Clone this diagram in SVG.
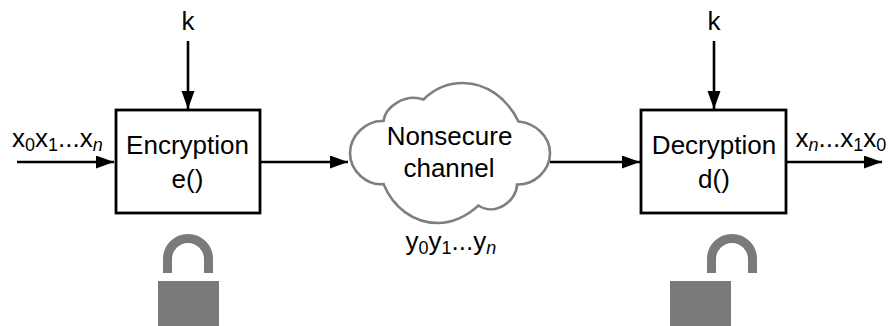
<svg xmlns="http://www.w3.org/2000/svg" width="891" height="326" viewBox="0 0 891 326">
<style>
text{font-family:"Liberation Sans",Arial,sans-serif;font-size:26px;fill:#000}
.m{text-anchor:middle}
.s{font-size:18px}
.i{font-size:18px;font-style:italic}
.box{fill:#fff;stroke:#000;stroke-width:2.8}
.conn{fill:none;stroke:#000;stroke-width:2.6}
.lock{fill:#7a7a7a}
.shackle{fill:none;stroke:#7a7a7a;stroke-width:9}
.cloud{fill:#fff;stroke:#7f7f7f;stroke-width:2.6}
</style>
<defs>
<marker id="arrow" markerUnits="userSpaceOnUse" markerWidth="20" markerHeight="14" refX="18" refY="6.500" orient="auto">
<path d="M0 0L18 6.500L0 13Z" fill="#000"/>
</marker>
</defs>
<g id="connectors">
<path class="conn" marker-end="url(#arrow)" d="M17 162H114"/>
<path class="conn" marker-end="url(#arrow)" d="M188 41V109"/>
<path class="conn" marker-end="url(#arrow)" d="M261 162H348"/>
<path class="conn" marker-end="url(#arrow)" d="M550 162H640"/>
<path class="conn" marker-end="url(#arrow)" d="M714 41V109"/>
<path class="conn" marker-end="url(#arrow)" d="M787 162H882"/>
</g>
<g id="encryption">
<rect class="box" x="116" y="110" width="144" height="103"/>
<text class="m" x="187.500" y="154">Encryption</text>
<text class="m" x="187.500" y="188">e()</text>
</g>
<g id="decryption">
<rect class="box" x="641" y="110" width="145" height="103"/>
<text class="m" x="714" y="154">Decryption</text>
<text class="m" x="714" y="188">d()</text>
</g>
<g id="cloud">
<path class="cloud" d="M383.500 121C385 107 405 93 423.500 99.500C434 89 448 83 463 83C486 83 507 98 518.500 121.500C535 123 550 136 550 153C550 171 534 185 517 184.500C517 200 496 217 478.500 205.500C467 216 452 223 438 223C413 223 393 207 383.500 184C367 186 350 171 350 153C350 136 366 120 383.500 121Z"/>
<text class="m" x="449.500" y="145">Nonsecure</text>
<text class="m" x="449" y="177">channel</text>
</g>
<g id="key-left"><text class="m" x="188" y="30">k</text></g>
<g id="key-right"><text class="m" x="714" y="30">k</text></g>
<g id="plaintext-in"><text x="12" y="147">x<tspan class="s" dy="4">0</tspan><tspan dy="-4">x</tspan><tspan class="s" dy="4">1</tspan><tspan dy="-4">...x</tspan><tspan class="i" dy="4">n</tspan></text></g>
<g id="ciphertext"><text x="405.500" y="250">y<tspan class="s" dy="4">0</tspan><tspan dy="-4">y</tspan><tspan class="s" dy="4">1</tspan><tspan dy="-4">...y</tspan><tspan class="i" dy="4">n</tspan></text></g>
<g id="plaintext-out"><text x="795.500" y="147">x<tspan class="i" dy="4">n</tspan><tspan dy="-4">...x</tspan><tspan class="s" dy="4">1</tspan><tspan dy="-4">x</tspan><tspan class="s" dy="4">0</tspan></text></g>
<g id="lock-closed">
<path class="shackle" d="M167.500 273V259A20.500 20.500 0 0 1 208.500 259V273"/>
<rect class="lock" x="158" y="281" width="61" height="45"/>
</g>
<g id="lock-open">
<path class="shackle" d="M711.500 273V259A20.500 20.500 0 0 1 752.500 259V273"/>
<rect class="lock" x="670" y="281" width="61" height="45"/>
</g>
</svg>
